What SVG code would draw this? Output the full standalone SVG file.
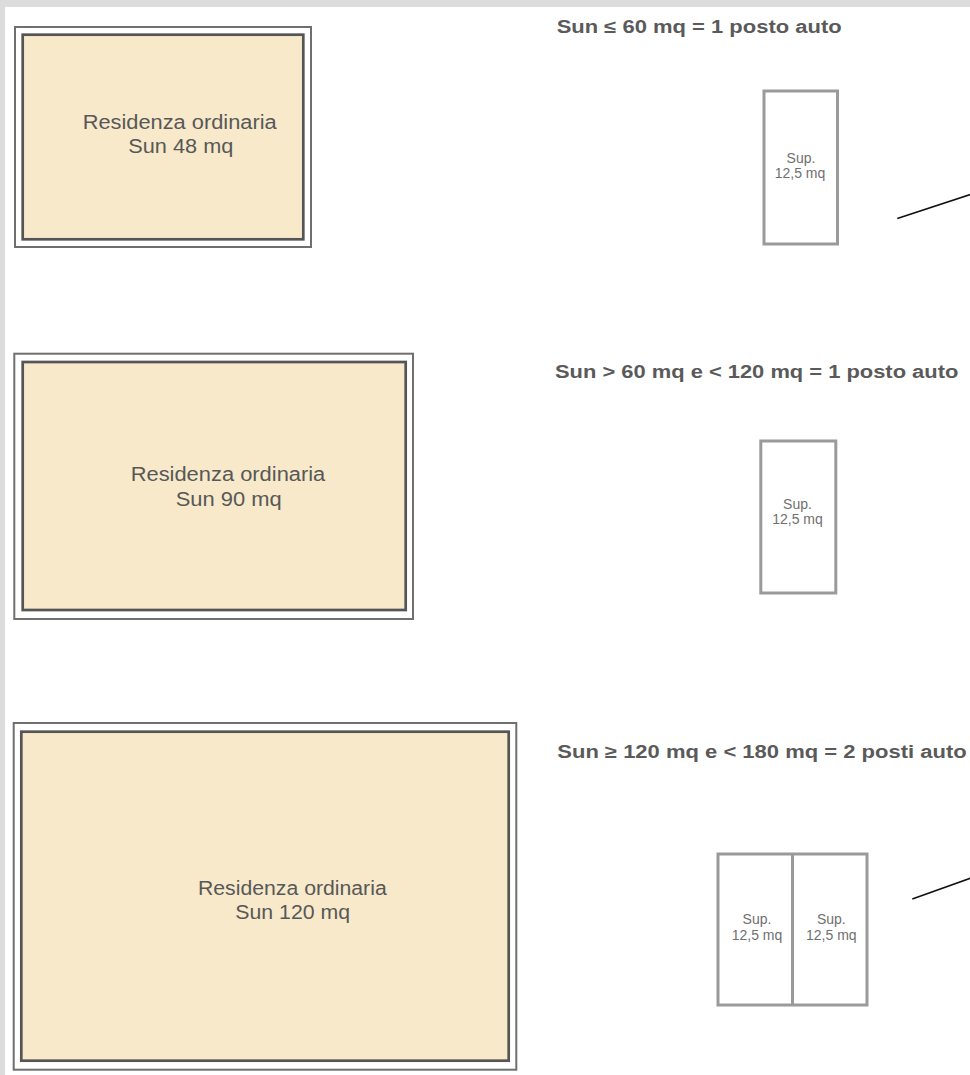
<svg xmlns="http://www.w3.org/2000/svg" width="970" height="1075" viewBox="0 0 970 1075">
<style>
.outer{fill:#ffffff;stroke:#6f6f6f;stroke-width:2}
.inner{fill:#f7e9ca;stroke:#555555;stroke-width:2.7}
.lbl{font-family:"Liberation Sans",Arial,sans-serif;font-size:20px;fill:#585858}
.head{font-family:"Liberation Sans",Arial,sans-serif;font-size:18px;font-weight:bold;fill:#5a5a5a}
.park{fill:#ffffff;stroke:#9a9a9a;stroke-width:3}
.plbl{font-family:"Liberation Sans",Arial,sans-serif;font-size:14px;fill:#707070;text-anchor:middle}
.conn{stroke:#111111;stroke-width:1.6;fill:none}
</style>
<rect x="0" y="0" width="970" height="1075" fill="#dcdcdc"/>
<rect x="5" y="7" width="965" height="1068" fill="#ffffff"/>

<g id="res48">
<rect class="outer" x="15" y="27" width="296" height="220"/>
<rect class="inner" x="22.7" y="34.7" width="280.6" height="204.6"/>
<text class="lbl" x="82.7" y="128.5" textLength="194" lengthAdjust="spacingAndGlyphs">Residenza ordinaria</text>
<text class="lbl" x="128.3" y="153.3" textLength="105" lengthAdjust="spacingAndGlyphs">Sun 48 mq</text>
</g>

<g id="res90">
<rect class="outer" x="14.3" y="353.7" width="398.7" height="265.3"/>
<rect class="inner" x="22.7" y="362" width="383" height="248"/>
<text class="lbl" x="130.7" y="480.7" textLength="194.6" lengthAdjust="spacingAndGlyphs">Residenza ordinaria</text>
<text class="lbl" x="175.7" y="505.7" textLength="106" lengthAdjust="spacingAndGlyphs">Sun 90 mq</text>
</g>

<g id="res120">
<rect class="outer" x="13.7" y="723" width="502.6" height="346.7"/>
<rect class="inner" x="21.3" y="731.7" width="487.4" height="329"/>
<text class="lbl" x="198" y="895" textLength="188.7" lengthAdjust="spacingAndGlyphs">Residenza ordinaria</text>
<text class="lbl" x="235.3" y="919.3" textLength="114.7" lengthAdjust="spacingAndGlyphs">Sun 120 mq</text>
</g>

<g id="head1">
<text class="head" x="556.7" y="33.3" textLength="285" lengthAdjust="spacingAndGlyphs">Sun ≤ 60 mq = 1 posto auto</text>
</g>
<g id="head2">
<text class="head" x="555" y="377.7" textLength="403.3" lengthAdjust="spacingAndGlyphs">Sun &gt; 60 mq e &lt; 120 mq = 1 posto auto</text>
</g>
<g id="head3">
<text class="head" x="557.3" y="757.7" textLength="409.4" lengthAdjust="spacingAndGlyphs">Sun ≥ 120 mq e &lt; 180 mq = 2 posti auto</text>
</g>

<g id="park1">
<rect class="park" x="764" y="91" width="73.5" height="153"/>
<text class="plbl" x="801" y="163.3">Sup.</text>
<text class="plbl" x="800" y="178.3">12,5 mq</text>
</g>

<g id="park2">
<rect class="park" x="760.8" y="441" width="75" height="152"/>
<text class="plbl" x="797.5" y="509.3">Sup.</text>
<text class="plbl" x="797.5" y="524">12,5 mq</text>
</g>

<g id="park3">
<rect class="park" x="718" y="854" width="149" height="151"/>
<line x1="792.5" y1="854" x2="792.5" y2="1005" stroke="#9a9a9a" stroke-width="3"/>
<text class="plbl" x="757" y="924.3">Sup.</text>
<text class="plbl" x="757" y="940">12,5 mq</text>
<text class="plbl" x="831.3" y="924.3">Sup.</text>
<text class="plbl" x="831.3" y="940">12,5 mq</text>
</g>

<g id="connectors">
<line class="conn" x1="897.3" y1="218.5" x2="972" y2="194"/>
<line class="conn" x1="912.3" y1="899" x2="972" y2="877.6"/>
</g>
</svg>
